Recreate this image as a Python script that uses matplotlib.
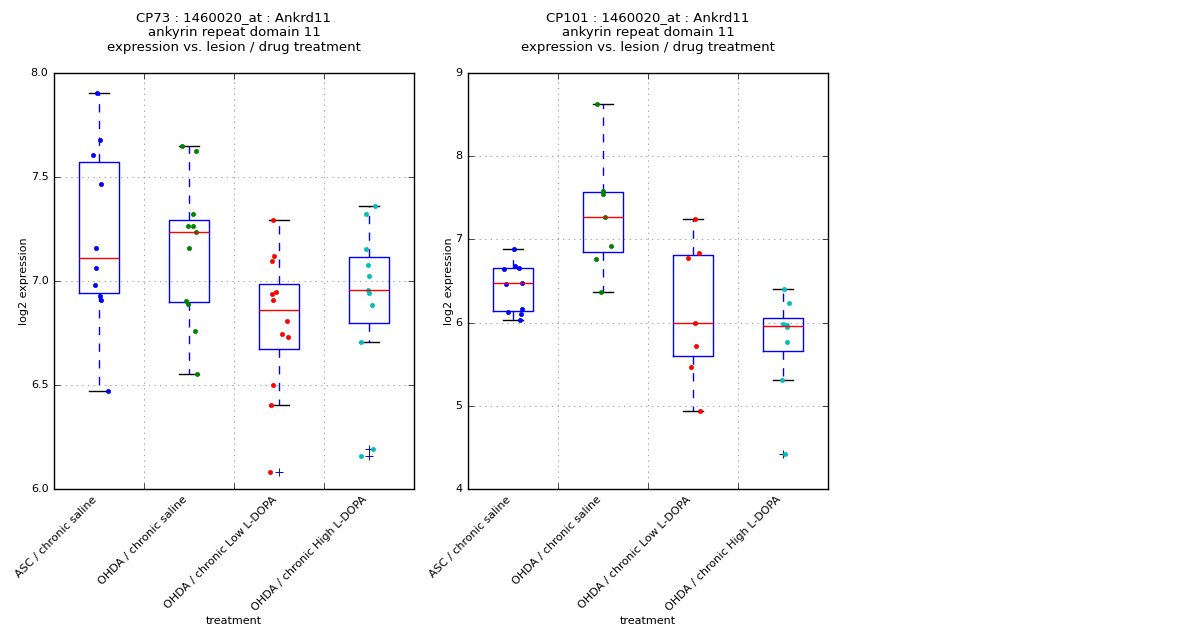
import numpy as np
import matplotlib
matplotlib.use("Agg")
import matplotlib.pyplot as plt

plt.style.use('classic')

groups = ['ASC / chronic saline', 'OHDA / chronic saline',
          'OHDA / chronic Low L-DOPA', 'OHDA / chronic High L-DOPA']
colors = ['b', 'g', 'r', 'c']

# CP73 values (log2 expression) and x-jitter
cp73_vals = [
    [7.905, 7.679, 7.607, 7.468, 7.160, 7.064, 6.982, 6.929, 6.909, 6.471],
    [7.650, 7.627, 7.324, 7.266, 7.266, 7.237, 7.160, 6.905, 6.891, 6.761, 6.554],
    [7.295, 7.119, 7.098, 6.949, 6.939, 6.910, 6.806, 6.747, 6.732, 6.502, 6.405, 6.083],
    [7.361, 7.324, 7.155, 7.078, 7.025, 6.958, 6.944, 6.886, 6.708, 6.194, 6.160],
]
cp73_jit = [
    [-0.026, 0.008, -0.067, 0.022, -0.033, -0.033, -0.048, 0.008, 0.022, 0.096],
    [-0.081, 0.078, 0.041, -0.014, 0.041, 0.078, -0.003, -0.033, -0.014, 0.063, 0.089],
    [-0.067, -0.056, -0.078, -0.037, -0.078, -0.067, 0.089, 0.033, 0.100, -0.067, -0.089, -0.100],
    [0.067, -0.033, -0.033, -0.015, 0.000, -0.015, 0.000, 0.030, -0.093, 0.041, -0.093],
]

# CP101 values
cp101_vals = [
    [6.888, 6.676, 6.660, 6.648, 6.468, 6.480, 6.131, 6.167, 6.107, 6.031],
    [8.631, 7.585, 7.549, 7.273, 6.924, 6.768, 6.368],
    [7.249, 6.837, 6.777, 5.995, 5.723, 5.470, 4.938],
    [6.407, 6.239, 5.987, 5.967, 5.947, 5.771, 5.310, 4.424],
]
cp101_jit = [
    [0.008, 0.019, 0.063, -0.103, -0.081, 0.096, -0.059, 0.096, 0.085, 0.074],
    [-0.070, 0.000, 0.000, 0.019, 0.085, -0.081, -0.022],
    [0.022, 0.063, -0.059, 0.022, 0.033, -0.026, 0.078],
    [0.011, 0.067, -0.003, 0.041, 0.044, 0.041, -0.015, 0.019],
]

panels = [
    ('CP73', cp73_vals, cp73_jit, (6.0, 8.0), [6.0, 6.5, 7.0, 7.5, 8.0]),
    ('CP101', cp101_vals, cp101_jit, (4, 9), [4, 5, 6, 7, 8, 9]),
]

fig = plt.figure(figsize=(12, 6.4), dpi=100, facecolor='white')
lefts = [0.045, 0.39]

for left, (name, vals, jit, ylim, yticks) in zip(lefts, panels):
    ax = fig.add_axes([left, 0.236, 0.30, 0.65])
    ax.boxplot(vals, positions=[1, 2, 3, 4], widths=0.45,
               flierprops=dict(marker='+', markeredgecolor='b',
                               markersize=6, markeredgewidth=0.7))
    for i in range(4):
        xs = np.array(jit[i]) + i + 1
        ax.plot(xs, vals[i], 'o', color=colors[i], markersize=3,
                markeredgecolor=colors[i], markeredgewidth=0.5)
    ax.set_xlim(0.5, 4.5)
    ax.set_ylim(*ylim)
    ax.set_yticks(yticks)
    if name == 'CP73':
        ax.set_yticklabels(['%.1f' % t for t in yticks])
    # labels at the boxes, ticks and grid between them
    ax.set_xticks([1, 2, 3, 4])
    ax.set_xticklabels(groups, rotation=45, ha='right', fontsize=8)
    ax.set_xticks([1.5, 2.5, 3.5], minor=True)
    ax.tick_params(axis='x', which='major', length=0, pad=4)
    ax.tick_params(axis='x', which='minor', length=4)
    ax.tick_params(axis='y', labelsize=8)
    ax.grid(False)
    ax.yaxis.grid(True, linestyle=':', color='gray')
    ax.xaxis.grid(True, which='minor', linestyle=':', color='gray')
    ax.set_axisbelow(True)
    ax.set_xlabel('treatment', fontsize=8, labelpad=2)
    ax.set_ylabel('log2 expression', fontsize=8, labelpad=1)
    ax.set_title(name + ' : 1460020_at : Ankrd11\nankyrin repeat domain 11\n'
                 'expression vs. lesion / drug treatment', fontsize=9.5, y=1.035)

fig.savefig('out.png', dpi=100, facecolor='white')
